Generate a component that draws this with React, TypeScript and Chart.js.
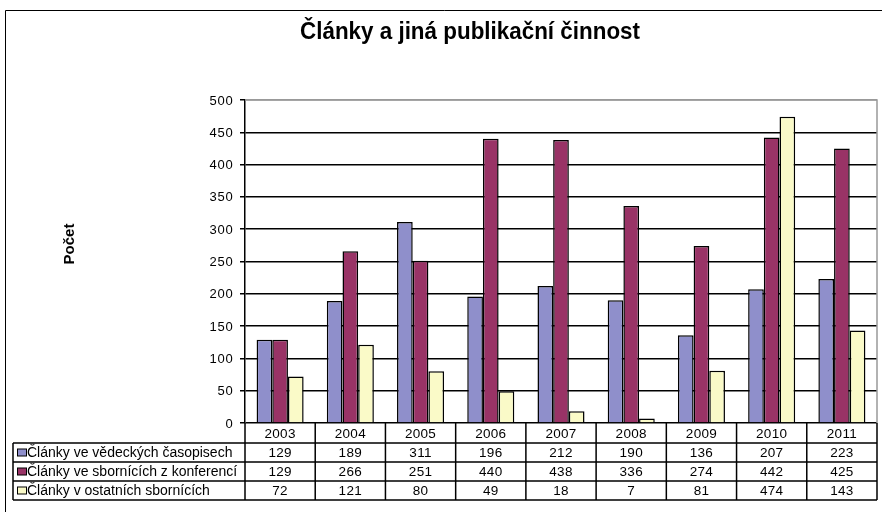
import React, { useEffect, useRef } from "react";
import { Chart, registerables } from "chart.js";

Chart.register(...registerables);

const chartTitle = "Články a jiná publikační činnost";
const yAxisTitle = "Počet";
const categories = ["2003", "2004", "2005", "2006", "2007", "2008", "2009", "2010", "2011"];
const seriesNames = [
  "Články ve vědeckých časopisech",
  "Články ve sbornících z konferencí",
  "Články v ostatních sbornících",
];
const journals = [129, 189, 311, 196, 212, 190, 136, 207, 223];
const conferences = [129, 266, 251, 440, 438, 336, 274, 442, 425];
const others = [72, 121, 80, 49, 18, 7, 81, 474, 143];
const seriesColors = ["#8f8fcb", "#993366", "#fafac8"];
const yMin = 0;
const yMax = 500;
const yStep = 50;

const FONT = "'Liberation Sans', Arial, sans-serif";

const decorPlugin = {
  id: "decor",
  afterDraw(chart: any) {
    const ctx = chart.ctx as any;
    const area = chart.chartArea;
    const xs = chart.scales.x;
    const ys = chart.scales.y;
    const W = chart.width;
    ctx.save();

    // outer frame
    ctx.strokeStyle = "#000";
    ctx.lineWidth = 1;
    ctx.beginPath();
    ctx.moveTo(5.5, 600);
    ctx.lineTo(5.5, 10.5);
    ctx.lineTo(W + 10, 10.5);
    ctx.stroke();

    // title (condensed)
    ctx.fillStyle = "#000";
    ctx.font = `bold 24px ${FONT}`;
    ctx.textAlign = "center";
    ctx.textBaseline = "middle";
    const tw = ctx.measureText(chartTitle).width;
    ctx.save();
    ctx.translate(470, 32);
    ctx.scale(340 / tw, 1);
    ctx.fillText(chartTitle, 0, 0);
    ctx.restore();

    // y axis title
    ctx.save();
    ctx.translate(70, 244);
    ctx.rotate(-Math.PI / 2);
    ctx.font = `bold 15px ${FONT}`;
    ctx.fillText(yAxisTitle, 0, 0);
    ctx.restore();

    // y tick labels
    ctx.font = `13px ${FONT}`;
    ctx.letterSpacing = "0.8px";
    ctx.textAlign = "right";
    ys.ticks.forEach((t: any) => {
      ctx.fillText(String(t.value), 233.5, ys.getPixelForValue(t.value) + 1);
    });

    // plot border right + top (gray)
    ctx.letterSpacing = "0px";
    ctx.strokeStyle = "#999";
    ctx.lineWidth = 1.5;
    ctx.beginPath();
    ctx.moveTo(area.left, area.top);
    ctx.lineTo(area.right, area.top);
    ctx.lineTo(area.right, area.bottom);
    ctx.stroke();

    // data table
    const n = categories.length;
    const colW = (area.right - area.left) / n;
    const rowTop = area.bottom;
    const rowH = [20, 19, 19, 19];
    const rowY: number[] = [rowTop];
    rowH.forEach((h) => rowY.push(rowY[rowY.length - 1] + h));
    const tableLeft = 13;

    ctx.strokeStyle = "#000";
    ctx.lineWidth = 1.5;
    ctx.beginPath();
    for (let r = 1; r < rowY.length; r++) {
      ctx.moveTo(tableLeft, rowY[r]);
      ctx.lineTo(area.right, rowY[r]);
    }
    ctx.moveTo(tableLeft, rowY[1]);
    ctx.lineTo(tableLeft, rowY[4]);
    for (let i = 0; i <= n; i++) {
      const cx = xs.getPixelForValue(i) - colW / 2;
      const x = i === n ? area.right : cx;
      ctx.moveTo(x, rowY[0]);
      ctx.lineTo(x, rowY[4]);
    }
    ctx.stroke();

    ctx.font = `13.5px ${FONT}`;
    ctx.letterSpacing = "0.3px";
    ctx.textAlign = "center";
    ctx.textBaseline = "middle";
    const seriesData = [journals, conferences, others];
    for (let i = 0; i < n; i++) {
      const cx = xs.getPixelForValue(i);
      ctx.fillText(categories[i], cx, (rowY[0] + rowY[1]) / 2 + 1);
      for (let s = 0; s < 3; s++) {
        ctx.fillText(String(seriesData[s][i]), cx, (rowY[s + 1] + rowY[s + 2]) / 2 + 1);
      }
    }
    ctx.textAlign = "left";
    ctx.font = `14px ${FONT}`;
    ctx.letterSpacing = "0px";
    for (let s = 0; s < 3; s++) {
      const cy = (rowY[s + 1] + rowY[s + 2]) / 2;
      ctx.fillStyle = seriesColors[s];
      ctx.fillRect(17, cy - 3.5, 9, 7);
      ctx.strokeStyle = "#000";
      ctx.lineWidth = 1;
      ctx.strokeRect(17.5, cy - 3.5, 9, 7);
      ctx.fillStyle = "#000";
      const name = seriesNames[s];
      const w = ctx.measureText(name).width;
      ctx.fillText(name, 27, cy + 1, Math.min(w, 214));
    }
    ctx.restore();
  },
};

export default function App() {
  const ref = useRef<HTMLCanvasElement | null>(null);
  useEffect(() => {
    if (!ref.current) return;
    const chart = new Chart(ref.current, {
      type: "bar",
      data: {
        labels: categories,
        datasets: [journals, conferences, others].map((d, i) => ({
          label: seriesNames[i],
          data: d,
          backgroundColor: seriesColors[i],
          borderColor: "#000",
          borderWidth: 1.5,
          borderSkipped: "bottom",
          categoryPercentage: 0.67,
          barPercentage: 1.0,
        })),
      },
      options: {
        animation: false,
        responsive: false,
        maintainAspectRatio: false,
        layout: { padding: { left: 0, right: 5, top: 100, bottom: 89 } },
        plugins: {
          legend: { display: false },
          title: { display: false },
          tooltip: { enabled: false },
        },
        scales: {
          x: {
            grid: { display: false },
            ticks: { display: false },
            border: { display: false },
            afterFit: (s: any) => {
              s.height = 0;
            },
          },
          y: {
            min: yMin,
            max: yMax,
            ticks: {
              stepSize: yStep,
              display: false,
            },
            grid: {
              color: (c: any) => (c.tick && c.tick.value === yMax ? "#999" : "#000"),
              lineWidth: 1.5,
              tickLength: 5,
              tickColor: "#000",
              drawTicks: true,
            },
            border: { color: "#000", width: 1.5 },
            afterFit: (s: any) => {
              s.width = 245;
            },
          },
        },
      },
      plugins: [decorPlugin],
    });
    return () => chart.destroy();
  }, []);
  return (
    <div style={{ position: "fixed", left: 0, top: 0, width: 882, height: 512, background: "#fff" }}>
      <canvas ref={ref} width={882} height={512} style={{ width: 882, height: 512 }} />
    </div>
  );
}
